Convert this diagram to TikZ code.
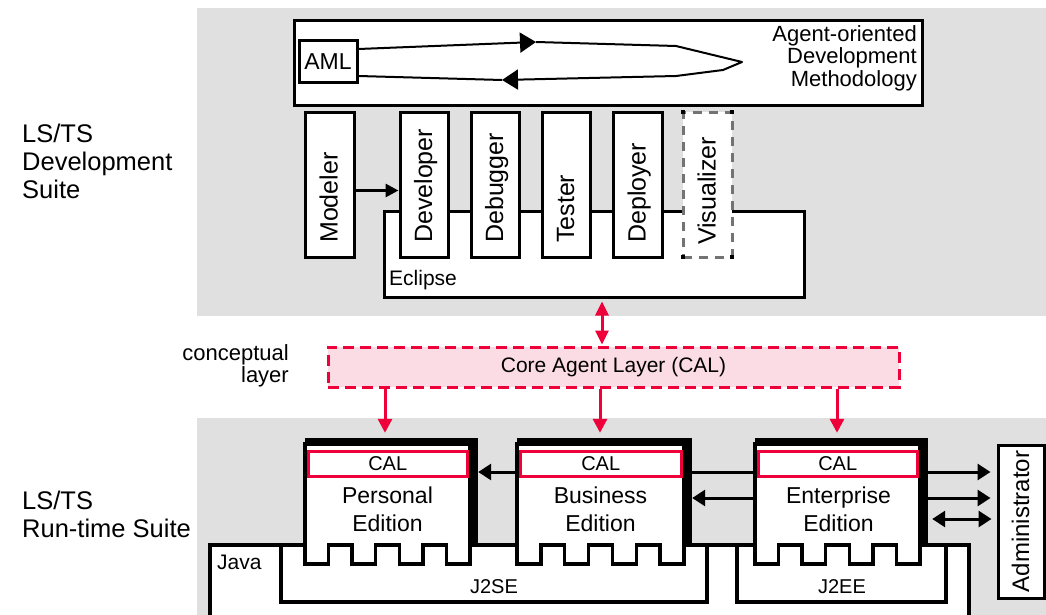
\documentclass[tikz,border=0pt]{standalone}
\usepackage{fontspec}
\setmainfont{Liberation Sans}
\usetikzlibrary{arrows.meta,fit}
\definecolor{panelgray}{RGB}{224,224,224}
\definecolor{calred}{RGB}{238,0,58}
\definecolor{calpink}{RGB}{252,220,228}
\newcommand\fs[2]{\fontsize{#1}{#2}\selectfont}
\newcommand\EdBox[3]{%
  \fill[black] (#1,438) rectangle (#2+8,545);
  \pgfmathsetmacro\edS{(#2-#1)/7}
  \draw[edgebox] (#1,444) -- (#2,444) -- (#2,564)
    -- ++(-\edS,0) -- ++(0,-19) -- ++(-\edS,0) -- ++(0,19)
    -- ++(-\edS,0) -- ++(0,-19) -- ++(-\edS,0) -- ++(0,19)
    -- ++(-\edS,0) -- ++(0,-19) -- ++(-\edS,0) -- ++(0,19)
    -- (#1,564) -- cycle;
  \node[inner sep=0pt,fit={(#1,438)(#2+8,564)}] (#3) {};
}
\begin{document}
\begin{tikzpicture}[x=1pt,y=-1pt,
  bx/.style={draw=black,line width=3pt,fill=white,inner sep=0pt},
  dbx/.style={bx,draw=black!55,dash pattern=on 9pt off 7pt},
  edgebox/.style={draw=black,line width=3.5pt,fill=white,line join=miter},
  calbox/.style={draw=calred,line width=3pt,fill=white,inner sep=0pt},
  layerbox/.style={draw=calred,line width=3pt,fill=calpink,dash pattern=on 11pt off 6pt,inner sep=0pt},
  vtext/.style={rotate=90,anchor=base west,inner sep=0pt,font=\fs{25}{30}},
  lbl/.style={inner sep=0pt},
  arr/.style={line width=3pt,-{Triangle[length=13pt,width=16pt]}},
  darr/.style={line width=3pt,{Triangle[length=13pt,width=16pt]}-{Triangle[length=13pt,width=16pt]}},
  rarr/.style={draw=calred,line width=3pt,-{Triangle[length=14pt,width=14pt]}},
  rdarr/.style={draw=calred,line width=3pt,{Triangle[length=14pt,width=13pt]}-{Triangle[length=14pt,width=13pt]}},
  loopln/.style={line width=2pt,line join=round},
  looparr/.style={loopln,-{Triangle[length=16pt,width=20pt]}},
]
\useasboundingbox (0,0) rectangle (1046,615);
% panels
\fill[panelgray] (197,8) rectangle (1046,316);
\fill[panelgray] (197,418) rectangle (1046,615);

% methodology
\node[bx,fit={(294,21)(922,106)}] (meth) {};
\node[lbl,align=right,anchor=north east,font=\fs{22}{22.5}] (tmeth) at (917,25) {Agent-oriented\\Development\\Methodology};
\node[bx,fit={(299,41)(357,82.5)}] (aml) {};
\node[lbl,font=\fs{23}{24}] (taml) at (aml.center) {AML};
\coordinate (l1) at (536,42);
\coordinate (l2) at (676,46);
\coordinate (l3) at (742,62);
\coordinate (l4) at (723,70);
\coordinate (l5) at (676,76);
\coordinate (l6) at (502,80);
\coordinate (ya1) at (0,49);
\coordinate (ya2) at (0,76);
\draw[looparr] (aml.east |- ya1) -- (l1);
\draw[looparr] (l1) -- (l2) -- (l3) -- (l4) -- (l5) -- (l6);
\draw[loopln] (l6) -- (aml.east |- ya2);

% eclipse and tools
\node[bx,fit={(384,211)(804,297)}] (eclipse) {};
\node[lbl,anchor=base west,font=\fs{21}{24}] (teclipse) at (389,285) {Eclipse};
\node[bx,fit={(305,112.5)(354,257)}] (modeler) {};
\node[bx,fit={(400,112.5)(448,257)}] (developer) {};
\node[bx,fit={(471,112.5)(519,257)}] (debugger) {};
\node[bx,fit={(542,112.5)(590,257)}] (tester) {};
\node[bx,fit={(613,112.5)(662,257)}] (deployer) {};
\node[dbx,fit={(683,112.5)(732,257)}] (visualizer) {};
\foreach \cx/\cy in {683/112.5,732/112.5,683/257,732/257}
  \fill[black] (\cx-2,\cy-2) rectangle (\cx+2,\cy+2);
\node[vtext] (tmodeler) at (337.5,243) {Modeler};
\node[vtext] (tdeveloper) at (432,243) {Developer};
\node[vtext] (tdebugger) at (503,243) {Debugger};
\node[vtext] (ttester) at (574,243) {Tester};
\node[vtext] (tdeployer) at (645.5,243) {Deployer};
\node[vtext] (tvisualizer) at (715.5,245) {Visualizer};
\coordinate (ymd) at (0,190.5);
\draw[line width=3pt,-{Triangle[length=13pt,width=13pt]}] (modeler.east |- ymd) -- (developer.west |- ymd);

% left labels
\node[lbl,align=left,anchor=north west,font=\fs{25.5}{28}] (devsuite) at (22,124) {LS/TS\\Development\\Suite};
\node[lbl,align=left,anchor=north west,font=\fs{25.5}{28}] (runsuite) at (22,490.5) {LS/TS\\Run-time Suite};
\node[lbl,align=right,anchor=north east,font=\fs{22}{22.5}] (concl) at (289,344) {conceptual\\layer};

% core agent layer
\node[layerbox,fit={(328,347)(899,387)}] (cal) {};
\node[lbl,font=\fs{21}{24}] (tcal) at (cal.center) {Core Agent Layer (CAL)};

% java platform
\node[bx,line width=3.5pt,fit={(210,545)(969,640)}] (java) {};
\node[lbl,anchor=base west,font=\fs{21}{24}] (tjava) at (217,569) {Java};
\node[bx,line width=3.5pt,fit={(281,545)(707,602)}] (j2se) {};
\node[bx,line width=3.5pt,fit={(737,545)(946,602)}] (j2ee) {};
\node[lbl,font=\fs{20}{24}] (tj2se) at (494,587) {J2SE};
\node[lbl,font=\fs{20}{24}] (tj2ee) at (842,587) {J2EE};

% editions
\EdBox{305}{470}{pers}
\EdBox{517}{684}{bus}
\EdBox{755}{920}{ent}
\node[calbox,fit={(308,451)(467.5,476)}] (calp) {};
\node[calbox,fit={(520,451)(681.5,476)}] (calb) {};
\node[calbox,fit={(758,451)(917.5,476)}] (cale) {};
\node[lbl,font=\fs{20}{24}] (tcalp) at (calp.center) {CAL};
\node[lbl,font=\fs{20}{24}] (tcalb) at (calb.center) {CAL};
\node[lbl,font=\fs{20}{24}] (tcale) at (cale.center) {CAL};
\node[lbl,align=center,font=\fs{23}{28}] (tpers) at (387.5,509) {Personal\\Edition};
\node[lbl,align=center,font=\fs{23}{28}] (tbus) at (600.5,509) {Business\\Edition};
\node[lbl,align=center,font=\fs{23}{28}] (tent) at (838.5,509) {Enterprise\\Edition};

% administrator
\node[bx,fit={(998,445)(1044,598)}] (admin) {};
\node[lbl,rotate=90,anchor=base,font=\fs{24}{28}] (tadmin) at (1029,521.5) {Administrator};

% edition connectors
\coordinate (ya) at (0,472);
\coordinate (yb) at (0,498);
\coordinate (yc) at (0,519);
\draw[arr] (bus.west |- ya) -- (pers.east |- ya);
\draw[line width=3pt] (bus.east |- ya) -- (ent.west |- ya);
\draw[arr] (ent.west |- yb) -- (bus.east |- yb);
\draw[arr,shorten >=6pt] (ent.east |- ya) -- (admin.west |- ya);
\draw[arr,shorten >=6pt] (ent.east |- yb) -- (admin.west |- yb);
\draw[darr,shorten <=4pt,shorten >=5pt] (ent.east |- yc) -- (admin.west |- yc);

% red connectors
\coordinate (x0) at (602,0);
\coordinate (x1) at (385,0);
\coordinate (x2) at (600,0);
\coordinate (x3) at (837,0);
\draw[rdarr,shorten <=3pt,shorten >=1pt] (eclipse.south -| x0) -- (cal.north -| x0);
\draw[rarr,shorten >=5pt] (cal.south -| x1) -- (pers.north -| x1);
\draw[rarr,shorten >=5pt] (cal.south -| x2) -- (bus.north -| x2);
\draw[rarr,shorten >=5pt] (cal.south -| x3) -- (ent.north -| x3);
\end{tikzpicture}
\end{document}
